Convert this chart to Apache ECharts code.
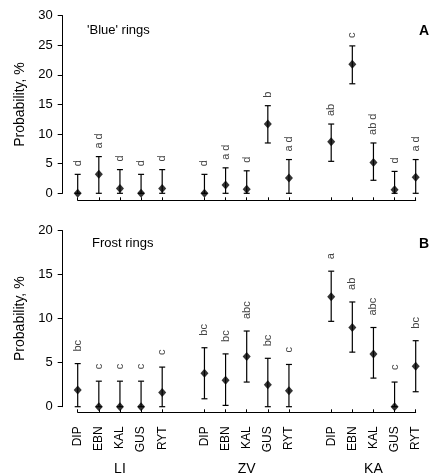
<!DOCTYPE html>
<html>
<head>
<meta charset="utf-8">
<script src="https://cdn.jsdelivr.net/npm/echarts@6/dist/echarts.min.js"></script>
<style>
  html, body { margin: 0; padding: 0; background: #fff; }
  #chart { width: 435px; height: 476px; }
</style>
</head>
<body>
<div id="chart"></div>
<script>
// site codes and regions
var sites = ['DIP', 'EBN', 'KAL', 'GUS', 'RYT'];
var regions = ['LI', 'ZV', 'KA'];

// 'Blue' rings (panel A), order LI, ZV, KA
var blueMean = [0, 3.2, 0.8, 0, 0.8,   0, 1.4, 0.7, 11.7, 2.6,   8.7, 21.8, 5.2, 0.6, 2.7];
var blueLow  = [0, 0, 0, 0, 0,         0, 0, 0, 8.5, 0,          5.4, 18.5, 2.2, 0, 0];
var blueHigh = [3.2, 6.2, 4.0, 3.2, 4.0,  3.2, 4.3, 3.8, 14.8, 5.7,  11.7, 24.9, 8.5, 3.7, 5.7];
var blueLetters = ['d', 'a d', 'd', 'd', 'd',  'd', 'a d', 'd', 'b', 'a d',  'ab', 'c', 'ab d', 'd', 'a d'];

// Frost rings (panel B)
var frostMean = [1.9, 0, 0, 0, 1.6,    3.8, 3.0, 5.7, 2.5, 1.8,   12.5, 9.0, 6.0, 0, 4.6];
var frostLow  = [0, 0, 0, 0, 0,        0.9, 0.15, 2.8, 0, 0,      9.7, 6.2, 3.25, 0, 1.7];
var frostHigh = [4.9, 2.9, 2.9, 2.9, 4.5,  6.7, 6.0, 8.6, 5.5, 4.8,  15.4, 11.9, 9.0, 2.8, 7.5];
var frostLetters = ['bc', 'c', 'c', 'c', 'c',  'bc', 'bc', 'abc', 'bc', 'c',  'a', 'ab', 'abc', 'c', 'bc'];

var blueTicks = [0, 5, 10, 15, 20, 25, 30];
var frostTicks = [0, 5, 10, 15, 20];

var FONT = 'Liberation Sans, Arial, sans-serif';

// 17 slots: 5 sites, a gap, 5 sites, a gap, 5 sites
var slots = [];
var slotIdx = []; // slot index for each of the 15 points
regions.forEach(function (r, ri) {
  if (ri > 0) slots.push('gap' + ri);
  sites.forEach(function (s) {
    slotIdx.push(slots.length);
    slots.push(r + ' ' + s);
  });
});
var centerSlot = {};
regions.forEach(function (r, ri) { centerSlot[slotIdx[ri * 5 + 2]] = r; });

function isGap(v) { return v.indexOf('gap') === 0; }

function meanData(mean) {
  return mean.map(function (v, i) { return [slotIdx[i], v]; });
}
function barData(low, high) {
  return low.map(function (v, i) { return [slotIdx[i], v, high[i]]; });
}

function errorSeries(xi, yi, low, high, letters, gap) {
  return {
    type: 'custom',
    xAxisIndex: xi,
    yAxisIndex: yi,
    data: barData(low, high),
    renderItem: function (params, api) {
      var lo = api.coord([api.value(0), api.value(1)]);
      var hi = api.coord([api.value(0), api.value(2)]);
      var hw = 3;
      var st = { stroke: '#000', lineWidth: 1.2 };
      return {
        type: 'group',
        children: [
          { type: 'line', shape: { x1: hi[0], y1: hi[1], x2: lo[0], y2: lo[1] }, style: st },
          { type: 'line', shape: { x1: hi[0] - hw, y1: hi[1], x2: hi[0] + hw, y2: hi[1] }, style: st },
          { type: 'line', shape: { x1: lo[0] - hw, y1: lo[1], x2: lo[0] + hw, y2: lo[1] }, style: st },
          {
            type: 'text',
            x: hi[0],
            y: hi[1] - gap,
            rotation: Math.PI / 2,
            style: {
              text: letters[params.dataIndex],
              align: 'left',
              verticalAlign: 'middle',
              font: '11px ' + FONT,
              fill: '#444'
            }
          }
        ]
      };
    },
    z: 2
  };
}

function pointSeries(xi, yi, mean) {
  return {
    type: 'scatter',
    xAxisIndex: xi,
    yAxisIndex: yi,
    symbol: 'diamond',
    symbolSize: [8, 9],
    itemStyle: { color: '#000' },
    data: meanData(mean),
    z: 3
  };
}

function xAxisBase(gi, offset, showLabels) {
  return {
    type: 'category',
    gridIndex: gi,
    position: 'bottom',
    data: slots,
    boundaryGap: false,
    offset: offset,
    axisLine: { onZero: false, lineStyle: { color: '#000', width: 1 } },
    axisTick: {
      inside: true,
      length: 3,
      interval: function (i, v) { return !isGap(v); },
      lineStyle: { color: '#000' }
    },
    axisLabel: {
      show: showLabels,
      rotate: 90,
      margin: 14,
      interval: 0,
      color: '#000',
      fontFamily: FONT,
      fontSize: 12,
      formatter: function (v) { return isGap(v) ? '' : v.split(' ')[1]; }
    },
    splitLine: { show: false }
  };
}

function yAxisBase(gi, ticks) {
  return {
    type: 'value',
    gridIndex: gi,
    min: ticks[0],
    max: ticks[ticks.length - 1],
    interval: ticks[1] - ticks[0],
    offset: 15,
    name: 'Probability, %',
    nameLocation: 'middle',
    nameRotate: 90,
    nameGap: 36,
    nameTextStyle: { color: '#000', fontFamily: FONT, fontSize: 14 },
    axisLine: { show: true, onZero: false, lineStyle: { color: '#000', width: 1 } },
    axisTick: { show: true, length: 5, lineStyle: { color: '#000' } },
    axisLabel: { color: '#000', fontFamily: FONT, fontSize: 13, margin: 10 },
    splitLine: { show: false }
  };
}

var chart = echarts.init(document.getElementById('chart'), null, { renderer: 'canvas' });

chart.setOption({
  animation: false,
  backgroundColor: '#fff',
  grid: [
    { left: 77.7, width: 338, top: 15.7, height: 177.6 },
    { left: 77.7, width: 338, top: 230.7, height: 176 }
  ],
  xAxis: [
    xAxisBase(0, 7, false),
    xAxisBase(1, 5.6, true),
    {
      type: 'category',
      gridIndex: 1,
      position: 'bottom',
      data: slots,
      boundaryGap: false,
      offset: 51,
      axisLine: { show: false, onZero: false },
      axisTick: { show: false },
      axisLabel: {
        interval: 0,
        margin: 4,
        color: '#000',
        fontFamily: FONT,
        fontSize: 14,
        formatter: function (v, i) { return centerSlot[i] || ''; }
      }
    }
  ],
  yAxis: [
    yAxisBase(0, blueTicks),
    yAxisBase(1, frostTicks)
  ],
  title: [
    { text: "'Blue' rings", left: 82, top: 19, textStyle: { fontFamily: FONT, fontSize: 13, fontWeight: 'normal', color: '#000' } },
    { text: 'Frost rings', left: 87, top: 232, textStyle: { fontFamily: FONT, fontSize: 13, fontWeight: 'normal', color: '#000' } },
    { text: 'A', right: 1, top: 19, textStyle: { fontFamily: FONT, fontSize: 14, fontWeight: 'bold', color: '#000' } },
    { text: 'B', right: 1, top: 232, textStyle: { fontFamily: FONT, fontSize: 14, fontWeight: 'bold', color: '#000' } }
  ],
  series: [
    errorSeries(0, 0, blueLow, blueHigh, blueLetters, 8),
    pointSeries(0, 0, blueMean),
    errorSeries(1, 1, frostLow, frostHigh, frostLetters, 12),
    pointSeries(1, 1, frostMean)
  ]
});
</script>
</body>
</html>
